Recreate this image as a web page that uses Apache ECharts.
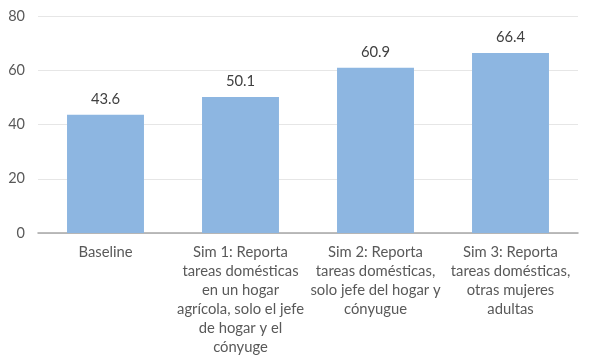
<!DOCTYPE html>
<html><head><meta charset="utf-8">
<script src="https://cdn.jsdelivr.net/npm/echarts@6/dist/echarts.min.js"></script>
<style>html,body{margin:0;padding:0;background:#fff}#c{width:600px;height:360px}</style>
</head><body><div id="c"></div>
<script>
const categories = [
  'Baseline',
  'Sim 1: Reporta\ntareas domésticas\nen un hogar\nagrícola, solo el jefe\nde hogar y el\ncónyuge',
  'Sim 2: Reporta\ntareas domésticas,\nsolo jefe del hogar y\ncónyugue',
  'Sim 3: Reporta\ntareas domésticas,\notras mujeres\nadultas'
];
const values = [43.6, 50.1, 60.9, 66.4];
const yTicks = [0, 20, 40, 60, 80];

const chart = echarts.init(document.getElementById('c'), null, {renderer: 'canvas'});
const font = 'Lato, "Open Sans", sans-serif';
chart.setOption({
  animation: false,
  grid: {left: 38, right: 22, top: 16, bottom: 127},
  xAxis: {
    type: 'category', data: categories,
    axisLine: {lineStyle: {color: '#a6a6a6', width: 1.5}},
    axisTick: {show: false},
    axisLabel: {color: '#595959', fontFamily: font, fontSize: 14.8, lineHeight: 19, margin: 10, interval: 0, align: 'center'}
  },
  yAxis: {
    type: 'value', min: yTicks[0], max: yTicks[yTicks.length-1], interval: 20,
    axisLine: {show: false}, axisTick: {show: false},
    splitLine: {lineStyle: {color: '#e6e6e6', width: 1}},
    axisLabel: {color: '#595959', fontFamily: font, fontSize: 14.5, margin: 13}
  },
  series: [{
    type: 'bar', data: values, barWidth: '57%',
    itemStyle: {color: '#8DB6E1'},
    label: {show: true, position: 'top', distance: 8, color: '#404040', fontFamily: font, fontSize: 14.8,
      formatter: p => p.value.toFixed(1)}
  }]
});
</script></body></html>
